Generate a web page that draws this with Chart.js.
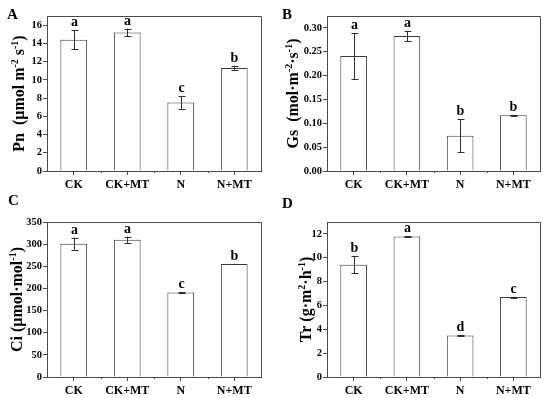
<!DOCTYPE html>
<html>
<head>
<meta charset="utf-8">
<script src="https://cdn.jsdelivr.net/npm/chart.js"></script>
<style>
    body { margin: 0; background: #fff; }
    #wrap { position: relative; width: 550px; height: 398px; background: #fff; }
    canvas { position: absolute; }
    .tag {
        position: absolute;
        font: bold 15px "Liberation Serif", "Times New Roman", serif;
        line-height: 1;
        color: #000;
    }
</style>
</head>
<body>
<div id="wrap">
    <canvas id="pn" width="275" height="199" style="left:0;top:0"></canvas>
    <canvas id="gs" width="275" height="199" style="left:275px;top:0"></canvas>
    <canvas id="ci" width="275" height="199" style="left:0;top:199px"></canvas>
    <canvas id="tr" width="275" height="199" style="left:275px;top:199px"></canvas>
    <div class="tag" style="left:7px;top:7px">A</div>
    <div class="tag" style="left:282px;top:7px">B</div>
    <div class="tag" style="left:8px;top:193px">C</div>
    <div class="tag" style="left:282px;top:196px">D</div>
</div>
<script>
const groups = ['CK', 'CK+MT', 'N', 'N+MT'];

const pnValues = [14.4, 15.2, 7.5, 11.3];
const pnErrors = [1.05, 0.42, 0.68, 0.25];
const pnLetters = ['a', 'a', 'c', 'b'];
const pnTicks = [0, 2, 4, 6, 8, 10, 12, 14, 16];

const gsValues = [0.241, 0.283, 0.074, 0.117];
const gsErrors = [0.048, 0.011, 0.035, 0.001];
const gsLetters = ['a', 'a', 'b', 'b'];
const gsTicks = [0, 0.05, 0.10, 0.15, 0.20, 0.25, 0.30];

const ciValues = [301, 310, 191, 255];
const ciErrors = [14, 7, 1.2, 0.6];
const ciLetters = ['a', 'a', 'c', 'b'];
const ciTicks = [0, 50, 100, 150, 200, 250, 300, 350];

const trValues = [9.41, 11.78, 3.48, 6.70];
const trErrors = [0.71, 0.05, 0.03, 0.04];
const trLetters = ['b', 'a', 'd', 'c'];
const trTicks = [0, 2, 4, 6, 8, 10, 12];

const serif = '"Liberation Serif", "Times New Roman", serif';
const lineColor = '#4a4a4a';

function makePanel(id, p) {
    // draws the frame, error bars, letters and the rotated axis title
    const extras = {
        id: 'extras_' + id,
        afterDatasetsDraw(chart) {
            const ctx = chart.ctx;
            const a = chart.chartArea;
            const y = chart.scales.y;
            const x = chart.scales.x;
            ctx.save();
            ctx.strokeStyle = lineColor;
            ctx.lineWidth = 1;
            ctx.beginPath();
            ctx.moveTo(a.left, Math.round(a.top) + 0.5);
            ctx.lineTo(Math.round(a.right) + 0.5, Math.round(a.top) + 0.5);
            ctx.lineTo(Math.round(a.right) + 0.5, a.bottom);
            ctx.stroke();

            // minor ticks between groups
            ctx.beginPath();
            for (let i = 0; i < groups.length - 1; i++) {
                const mx = Math.round((x.getPixelForValue(i) + x.getPixelForValue(i + 1)) / 2) + 0.5;
                ctx.moveTo(mx, a.bottom);
                ctx.lineTo(mx, a.bottom + 2);
            }
            ctx.stroke();

            const meta = chart.getDatasetMeta(0);
            ctx.strokeStyle = '#2e2e2e';
            ctx.fillStyle = '#000';
            ctx.font = 'bold 14px ' + serif;
            ctx.textAlign = 'center';
            ctx.textBaseline = 'alphabetic';
            meta.data.forEach((bar, i) => {
                const bx = Math.round(bar.x) + 0.5;
                const top = y.getPixelForValue(p.values[i] + p.errors[i]);
                const bot = y.getPixelForValue(p.values[i] - p.errors[i]);
                ctx.beginPath();
                ctx.moveTo(bx, top);
                ctx.lineTo(bx, bot);
                ctx.moveTo(bx - 3, Math.round(top) + 0.5);
                ctx.lineTo(bx + 4, Math.round(top) + 0.5);
                ctx.moveTo(bx - 3, Math.round(bot) + 0.5);
                ctx.lineTo(bx + 4, Math.round(bot) + 0.5);
                ctx.stroke();
                ctx.fillText(p.letters[i], bx, top - 4);
            });

            // y axis title with superscripts
            const mainFont = 'bold 16px ' + serif;
            const supFont = 'bold 10px ' + serif;
            let total = 0;
            p.title.forEach(s => {
                ctx.font = s[1] ? supFont : mainFont;
                total += ctx.measureText(s[0]).width;
            });
            ctx.translate(p.titleX, (a.top + a.bottom) / 2);
            ctx.rotate(-Math.PI / 2);
            ctx.textAlign = 'left';
            let pos = -total / 2;
            p.title.forEach(s => {
                ctx.font = s[1] ? supFont : mainFont;
                ctx.fillText(s[0], pos, s[1] ? -1 : 5);
                pos += ctx.measureText(s[0]).width;
            });
            ctx.restore();
        }
    };

    return new Chart(document.getElementById(id), {
        type: 'bar',
        data: {
            labels: groups,
            datasets: [{
                data: p.values,
                backgroundColor: '#fff',
                borderColor: '#3a3a3a',
                borderWidth: 1,
                barPercentage: 0.5,
                categoryPercentage: 1
            }]
        },
        options: {
            responsive: false,
            animation: false,
            events: [],
            layout: {
                padding: { top: p.padTop, right: p.padRight, left: 0, bottom: 0 }
            },
            plugins: {
                legend: { display: false },
                tooltip: { enabled: false }
            },
            scales: {
                x: {
                    grid: {
                        display: true,
                        drawOnChartArea: false,
                        offset: false,
                        tickLength: 4,
                        color: lineColor
                    },
                    border: { color: lineColor, width: 1 },
                    ticks: {
                        color: '#000',
                        padding: 3,
                        font: { family: serif, size: 12, weight: 'bold' }
                    },
                    afterFit: s => { s.height = p.axisH; }
                },
                y: {
                    min: 0,
                    max: p.max,
                    grid: {
                        display: true,
                        drawOnChartArea: false,
                        tickLength: 4,
                        color: lineColor
                    },
                    border: { color: lineColor, width: 1 },
                    ticks: {
                        color: '#000',
                        padding: 1,
                        font: { family: serif, size: 10.5, weight: 'bold' },
                        callback: v => v.toFixed(p.digits)
                    },
                    afterBuildTicks: s => {
                        s.ticks = p.ticks.map(v => ({ value: v }));
                    },
                    afterFit: s => { s.width = p.axisW; }
                }
            }
        },
        plugins: [extras]
    });
}

makePanel('pn', {
    values: pnValues, errors: pnErrors, letters: pnLetters, ticks: pnTicks,
    max: 17, digits: 0,
    title: [['Pn  (\u03bcmol m', 0], ['-2', 1], [' s', 0], ['-1', 1], [')', 0]],
    titleX: 19, axisW: 47, axisH: 28, padTop: 16, padRight: 14
});

makePanel('gs', {
    values: gsValues, errors: gsErrors, letters: gsLetters, ticks: gsTicks,
    max: 0.325, digits: 2,
    title: [['Gs  (mol\u00b7m', 0], ['-2', 1], ['\u00b7s', 0], ['-1', 1], [')', 0]],
    titleX: 18, axisW: 52, axisH: 28, padTop: 16, padRight: 10
});

makePanel('ci', {
    values: ciValues, errors: ciErrors, letters: ciLetters, ticks: ciTicks,
    max: 350, digits: 0,
    title: [['Ci (\u03bcmol\u00b7mol', 0], ['-1', 1], [')', 0]],
    titleX: 17, axisW: 47, axisH: 21, padTop: 23, padRight: 14
});

makePanel('tr', {
    values: trValues, errors: trErrors, letters: trLetters, ticks: trTicks,
    max: 13, digits: 0,
    title: [['Tr (g\u00b7m', 0], ['2', 1], ['\u00b7h', 0], ['-1', 1], [')', 0]],
    titleX: 31, axisW: 52, axisH: 21, padTop: 23, padRight: 10
});
</script>
</body>
</html>
